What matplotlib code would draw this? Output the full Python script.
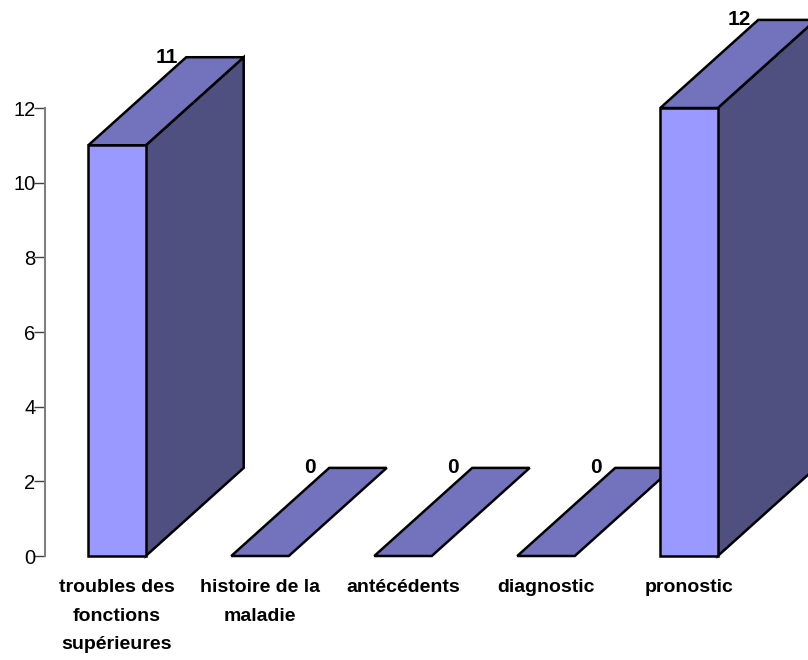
import matplotlib.pyplot as plt
from matplotlib.patches import Polygon

plt.rcParams['font.family'] = ['Liberation Sans', 'DejaVu Sans']

categories = ["troubles des\nfonctions\nsupérieures", "histoire de la\nmaladie",
              "antécédents", "diagnostic", "pronostic"]
values = [11, 0, 0, 0, 12]
y_ticks = [0, 2, 4, 6, 8, 10, 12]

front_color = '#9999ff'
top_color = '#7373bd'
side_color = '#4f4f80'

# bar size and 3d offset, in data units
bar_w = 0.402
depth_x = 0.685
depth_y = 2.36

fig = plt.figure(figsize=(8.08, 6.6), dpi=100)
ax = fig.add_axes([45 / 808, 104 / 660, 763 / 808, 448 / 660])
ax.set_xlim(-0.5035, 4.832)
ax.set_ylim(0, 12)

for i, v in enumerate(values):
    x0 = i - bar_w / 2
    x1 = i + bar_w / 2
    front = [(x0, 0), (x1, 0), (x1, v), (x0, v)]
    side = [(x1, 0), (x1 + depth_x, depth_y), (x1 + depth_x, v + depth_y), (x1, v)]
    top = [(x0, v), (x1, v), (x1 + depth_x, v + depth_y), (x0 + depth_x, v + depth_y)]
    # zero height bars only show the top face
    faces = [(top, top_color)]
    if v > 0:
        faces = [(side, side_color), (top, top_color), (front, front_color)]
    for pts, col in faces:
        ax.add_patch(Polygon(pts, closed=True, facecolor=col, edgecolor='black',
                             linewidth=1.8, joinstyle='miter', clip_on=False, zorder=2 + i))
    ax.text(x0 + depth_x - 0.135, v + depth_y, str(v), ha='center', va='center',
            fontsize=15, fontweight='bold', color='black', zorder=10)

for s in ['top', 'right', 'bottom']:
    ax.spines[s].set_visible(False)
ax.spines['left'].set_color('#808080')
ax.spines['left'].set_linewidth(1.5)

ax.set_yticks(y_ticks)
ax.tick_params(axis='y', length=8, width=1, color='#404040', labelsize=14.5, pad=-1)
ax.set_xticks(range(len(categories)))
ax.set_xticklabels(categories, fontsize=14, fontweight='bold', linespacing=1.9,
                   ha='center', va='top')
ax.tick_params(axis='x', length=0, pad=16.5)

fig.savefig('out.png', dpi=100)
